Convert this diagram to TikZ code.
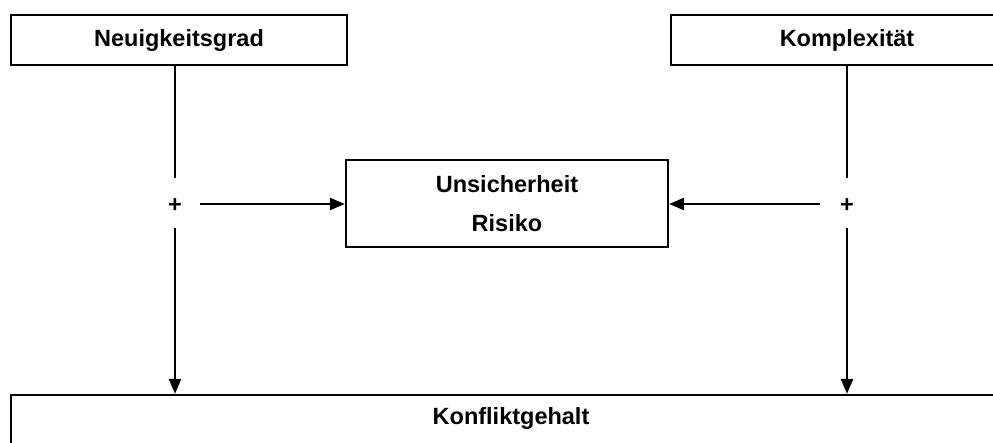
\documentclass[tikz,border=0pt]{standalone}
\usepackage{fontspec}
\setmainfont{Liberation Sans}
\usetikzlibrary{arrows.meta}
\begin{document}
\begin{tikzpicture}[x=1pt,y=-1pt,
  box/.style={draw, line width=2.2pt, inner sep=0pt, align=center,
    font=\fontsize{23.5}{39}\selectfont\bfseries},
  lbl/.style={inner sep=0pt, font=\fontsize{23.5}{28}\selectfont\bfseries},
  conn/.style={line width=2.4pt},
  arr/.style={conn, -{Triangle[length=15pt,width=12pt]}}]
\useasboundingbox (0,0) rectangle (993,442);

% factor boxes
\node[box, minimum width=336pt, minimum height=50pt] (neu) at (179,40) {Neuigkeitsgrad};
\node[box, minimum width=352pt, minimum height=50pt] (kom) at (847,40) {Komplexität};

% central box
\node[box, minimum width=322pt, minimum height=87pt] (uns) at (507,203.5) {Unsicherheit\\Risiko};

% outcome box (runs off the page at right and bottom)
\node[box, minimum width=1000pt, minimum height=70pt] (konf) at (511,430) {};
\node[lbl] (konflbl) at (511,418) {Konfliktgehalt};

% plus signs
\node[lbl] (pl) at (175,206) {+};
\node[lbl] (pr) at (847,206) {+};

% gap ends around the plus signs
\coordinate (lt) at (175,178);
\coordinate (lb) at (175,228);
\coordinate (rt) at (847,178);
\coordinate (rb) at (847,228);
\coordinate (ls) at (200,204);
\coordinate (rs) at (820,204);

\draw[conn] (neu.south -| lt) -- (lt);
\draw[arr] (lb) -- (konf.north -| lb);
\draw[conn] (kom.south -| rt) -- (rt);
\draw[arr] (rb) -- (konf.north -| rb);
\draw[arr] (ls) -- (ls -| uns.west);
\draw[arr] (rs) -- (rs -| uns.east);
\end{tikzpicture}
\end{document}
